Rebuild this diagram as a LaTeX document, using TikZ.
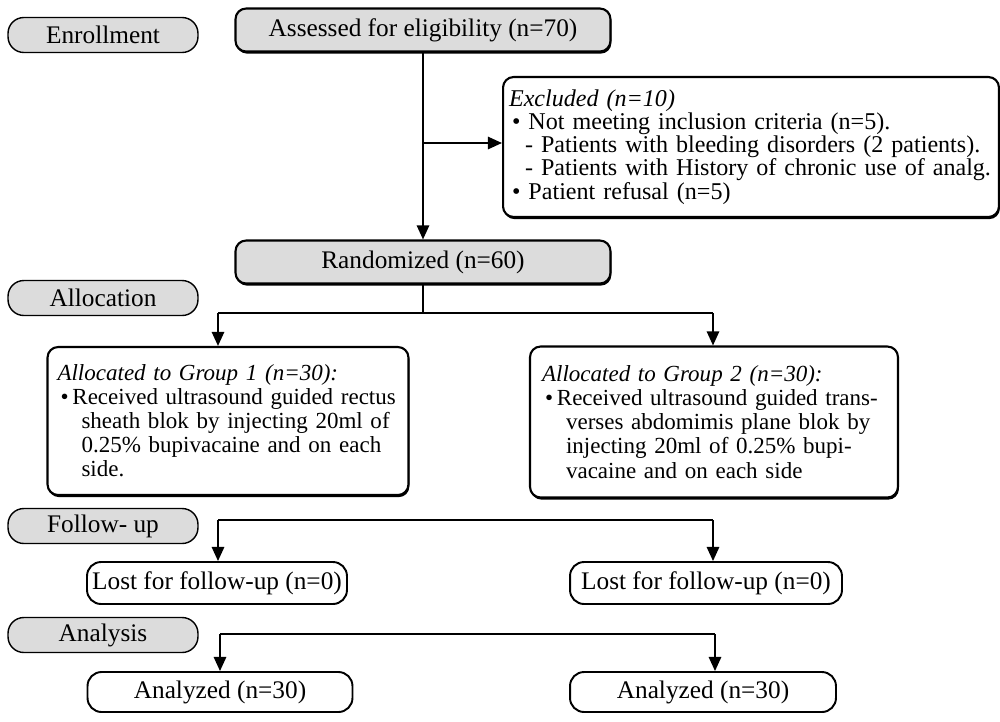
\documentclass[tikz,border=0pt]{standalone}
\usepackage{fontspec}
\usepackage{xcolor}
\setmainfont{Liberation Serif}
\usetikzlibrary{arrows.meta,shadows}

\definecolor{phasegray}{HTML}{DCDCDC}

\begin{document}
\begin{tikzpicture}[x=0.02cm, y=-0.02cm, line width=1.1pt,
  font=\fontsize{14.4}{16}\selectfont,
  phase/.style={draw, line width=0.8pt, fill=phasegray, rounded corners=9pt,
    minimum width=3.8cm, minimum height=0.7cm, inner sep=0pt},
  mainbox/.style={draw, line width=1.2pt, fill=phasegray, rounded corners=6pt,
    minimum width=7.5cm, minimum height=0.86cm, inner sep=0pt,
    drop shadow={shadow xshift=0.5pt, shadow yshift=-1.2pt, opacity=1, fill=black}},
  infobox/.style={draw, line width=1.2pt, fill=white, rounded corners=6pt,
    align=left, inner sep=0pt,
    drop shadow={shadow xshift=0.5pt, shadow yshift=-1.2pt, opacity=1, fill=black}},
  lostbox/.style={draw, line width=1.1pt, fill=white, rounded corners=8pt,
    minimum height=0.84cm, inner sep=0pt},
  arrow/.style={-{Triangle[length=8pt, width=7pt]}}]

\useasboundingbox (0,0) rectangle (1000,721);

% phase labels
\node[phase] (enroll) at (103,35) {Enrollment};
\node[phase] (alloc) at (103,298) {Allocation};
\node[phase] (follow) at (103,526) {Follow- up};
\node[phase] (analys) at (103,635) {Analysis};

% enrollment
\node[mainbox] (assess) at (423,30) {Assessed for eligibility (n=70)};
\node[infobox, minimum width=9.92cm, minimum height=2.8cm, text width=9.68cm,
  font=\fontsize{13.7}{13.2}\selectfont]
  (excl) at (751,147) {\textit{Excluded (n=10)}\\
  \hspace*{0.06cm}\textbullet\ Not meeting inclusion criteria (n=5).\\
  \hspace*{0.32cm}- Patients with bleeding disorders (2 patients).\\
  \hspace*{0.32cm}- Patients with History of chronic use of analg.\\
  \hspace*{0.06cm}\textbullet\ Patient refusal (n=5)};
\node[mainbox] (rand) at (423,262) {Randomized (n=60)};

\coordinate (exclsplit) at (423,143);
\draw[arrow] (assess.south) -- (rand.north);
\draw[arrow] (exclsplit) -- (exclsplit -| excl.west);

% allocation
\node[infobox, minimum width=7.22cm, minimum height=2.96cm, text width=6.82cm,
  font=\fontsize{13.1}{13.7}\selectfont]
  (group1) at (228,421) {\textit{Allocated to Group 1 (n=30):}\\
  \hspace*{0.06cm}\textbullet\,Received ultrasound guided rectus\\
  \hspace*{0.48cm}sheath blok by injecting 20ml of\\
  \hspace*{0.48cm}0.25\% bupivacaine and on each\\
  \hspace*{0.48cm}side.};
\node[infobox, minimum width=7.36cm, minimum height=3.02cm, text width=6.88cm,
  font=\fontsize{13.1}{13.7}\selectfont]
  (group2) at (714,422) {\textit{Allocated to Group 2 (n=30):}\\
  \hspace*{0.06cm}\textbullet\,Received ultrasound guided trans-\\
  \hspace*{0.48cm}verses abdomimis plane blok by\\
  \hspace*{0.48cm}injecting 20ml of 0.25\% bupi-\\
  \hspace*{0.48cm}vacaine and on each side};

\coordinate (allocL) at (218,313);
\coordinate (allocR) at (713,313);
\draw (rand.south) -- (rand.south |- allocL);
\draw (allocL) -- (allocR);
\draw[arrow] (allocL) -- (allocL |- group1.north);
\draw[arrow] (allocR) -- (allocR |- group2.north);

% follow-up
\node[lostbox, minimum width=5.2cm] (lost1) at (217,583) {Lost for follow-up (n=0)};
\node[lostbox, minimum width=5.44cm] (lost2) at (706,583) {Lost for follow-up (n=0)};

\coordinate (followL) at (218,520);
\coordinate (followR) at (713,520);
\draw (followL) -- (followR);
\draw[arrow] (followL) -- (followL |- lost1.north);
\draw[arrow] (followR) -- (followR |- lost2.north);

% analysis
\node[lostbox, minimum width=5.3cm, minimum height=0.8cm] (anal1) at (220,692) {Analyzed (n=30)};
\node[lostbox, minimum width=5.32cm, minimum height=0.8cm] (anal2) at (703,692) {Analyzed (n=30)};

\coordinate (analL) at (220,634);
\coordinate (analR) at (715,634);
\draw (analL) -- (analR);
\draw[arrow] (analL) -- (analL |- anal1.north);
\draw[arrow] (analR) -- (analR |- anal2.north);

\end{tikzpicture}
\end{document}
